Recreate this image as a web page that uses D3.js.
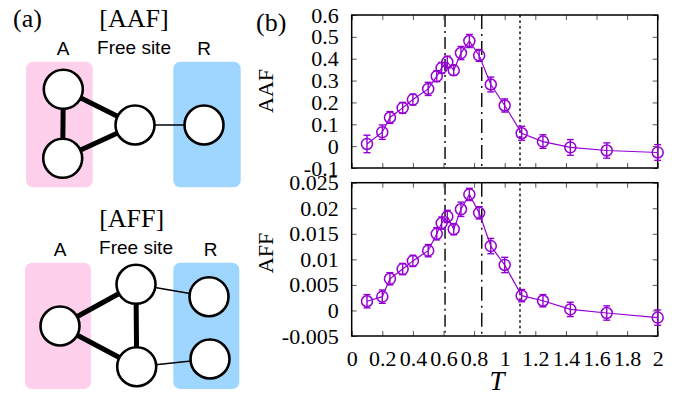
<!DOCTYPE html>
<html>
<head>
<meta charset="utf-8">
<script src="https://cdn.jsdelivr.net/npm/d3@7"></script>
<style>
  html, body { margin: 0; padding: 0; background: #fff; }
  svg { display: block; }
</style>
</head>
<body>
<svg id="fig" width="682" height="396"></svg>
<script>
// Temperatures of the sampled points
const temps = [0.1, 0.2, 0.25, 0.333, 0.4, 0.5, 0.556, 0.588, 0.625, 0.667, 0.714, 0.769, 0.833, 0.909, 1.0, 1.111, 1.25, 1.429, 1.667, 2.0];
// AAF correlation and its error bars
const aafValues = [0.01, 0.064, 0.131, 0.175, 0.213, 0.262, 0.32, 0.358, 0.385, 0.347, 0.426, 0.481, 0.415, 0.282, 0.186, 0.059, 0.021, -0.006, -0.02, -0.029];
const aafErrors = [0.04, 0.033, 0.027, 0.025, 0.025, 0.03, 0.025, 0.025, 0.027, 0.023, 0.03, 0.03, 0.027, 0.034, 0.03, 0.032, 0.031, 0.036, 0.035, 0.036];
// AFF correlation and its error bars
const affValues = [0.0018, 0.0027, 0.0062, 0.0081, 0.0097, 0.0117, 0.0150, 0.0171, 0.0184, 0.0159, 0.0198, 0.0227, 0.0191, 0.0126, 0.0089, 0.0029, 0.0019, 0.0002, -0.0005, -0.0014];
const affErrors = [0.0013, 0.0013, 0.0012, 0.0011, 0.0011, 0.0012, 0.0012, 0.0012, 0.0012, 0.0011, 0.0014, 0.0012, 0.0012, 0.0015, 0.0015, 0.0012, 0.0012, 0.0014, 0.0014, 0.0015];
// Reference temperatures marked by vertical lines
const markerTemps = [0.61, 0.85, 1.10];
const markerDash = ["12,4,2,4", "14,5,2,5", "2.5,3"];
// Tick labels
const xTicks = [0, 0.2, 0.4, 0.6, 0.8, 1, 1.2, 1.4, 1.6, 1.8, 2];
const aafTicks = [-0.1, 0, 0.1, 0.2, 0.3, 0.4, 0.5, 0.6];
const affTicks = [-0.005, 0, 0.005, 0.01, 0.015, 0.02, 0.025];

const svg = d3.select("#fig");
const serif = "'Liberation Serif', 'Times New Roman', serif";
const sans = "'Liberation Sans', Arial, sans-serif";
const purple = "#9400d3";

const x = d3.scaleLinear().domain([0, 2]).range([351.7, 657.7]);
const fmt = d => String(Math.round(d * 10000) / 10000);

function panel(values, errors, domain, ticks, top, bottom, label, labelY, showX) {
  const y = d3.scaleLinear().domain(domain).range([bottom, top]);
  const g = svg.append("g");

  // markers for reference temperatures
  markerTemps.forEach((t, i) => {
    g.append("line")
      .attr("x1", x(t)).attr("x2", x(t))
      .attr("y1", top).attr("y2", bottom)
      .attr("stroke", "#000").attr("stroke-width", 1.4)
      .attr("stroke-dasharray", markerDash[i]);
  });

  // axes with inward ticks on all sides
  const left = g.append("g").attr("transform", `translate(${x.range()[0]},0)`)
    .call(d3.axisLeft(y).tickValues(ticks).tickSize(-5).tickPadding(13).tickFormat(fmt));
  const right = g.append("g").attr("transform", `translate(${x.range()[1]},0)`)
    .call(d3.axisRight(y).tickValues(ticks).tickSize(-5).tickFormat(""));
  const bot = g.append("g").attr("transform", `translate(0,${bottom})`)
    .call(d3.axisBottom(x).tickValues(xTicks).tickSize(-5).tickPadding(14).tickFormat(showX ? fmt : ""));
  const topAx = g.append("g").attr("transform", `translate(0,${top})`)
    .call(d3.axisTop(x).tickValues(xTicks).tickSize(-5).tickFormat(""));
  [left, right, bot, topAx].forEach(a => {
    a.select(".domain").remove();
    a.selectAll(".tick line").attr("stroke", "#555").attr("stroke-width", 1);
    a.selectAll("text").attr("font-family", serif).attr("font-size", 22).attr("fill", "#000");
  });
  bot.selectAll("text").attr("dy", "0.71em");

  // frame
  g.append("rect").attr("x", x.range()[0]).attr("y", top)
    .attr("width", x.range()[1] - x.range()[0]).attr("height", bottom - top)
    .attr("fill", "none").attr("stroke", "#000").attr("stroke-width", 1.5);

  // data line
  const pts = temps.map((t, i) => ({ t, v: values[i], e: errors[i] }));
  g.append("path").datum(pts)
    .attr("d", d3.line().x(d => x(d.t)).y(d => y(d.v)))
    .attr("fill", "none").attr("stroke", purple).attr("stroke-width", 1.2);

  const pt = g.selectAll(".pt").data(pts).join("g").attr("class", "pt");
  pt.append("line")
    .attr("x1", d => x(d.t)).attr("x2", d => x(d.t))
    .attr("y1", d => y(d.v - d.e)).attr("y2", d => y(d.v + d.e))
    .attr("stroke", purple).attr("stroke-width", 1.4);
  [-1, 1].forEach(s => {
    pt.append("line")
      .attr("x1", d => x(d.t) - 3.5).attr("x2", d => x(d.t) + 3.5)
      .attr("y1", d => y(d.v + s * d.e)).attr("y2", d => y(d.v + s * d.e))
      .attr("stroke", purple).attr("stroke-width", 1.4);
  });
  pt.append("circle")
    .attr("cx", d => x(d.t)).attr("cy", d => y(d.v)).attr("r", 5.5)
    .attr("fill", "none").attr("stroke", purple).attr("stroke-width", 1.5);

  // y label
  svg.append("text")
    .attr("transform", `translate(273,${labelY}) rotate(-90)`)
    .attr("text-anchor", "middle")
    .attr("font-family", serif).attr("font-size", 22)
    .text(label);
}

panel(aafValues, aafErrors, [-0.1, 0.6], aafTicks, 15, 168, "AAF", 91, false);
panel(affValues, affErrors, [-0.005, 0.025], affTicks, 182.7, 336, "AFF", 253, true);

svg.append("text").attr("x", 497).attr("y", 390).attr("text-anchor", "middle")
  .attr("font-family", serif).attr("font-style", "italic").attr("font-size", 27).text("T");

svg.append("text").attr("x", 256).attr("y", 31).attr("font-family", serif).attr("font-size", 26).text("(b)");
svg.append("text").attr("x", 13).attr("y", 27).attr("font-family", serif).attr("font-size", 26).text("(a)");

// Schematic diagrams of the two cluster configurations
const pink = "#ffd0ec", blue = "#9fd6ff";
function diagram(cfg) {
  const g = svg.append("g");
  g.append("rect").attr("x", cfg.boxA[0]).attr("y", cfg.boxY).attr("width", cfg.boxA[1]).attr("height", cfg.boxH)
    .attr("rx", 7).attr("fill", pink);
  g.append("rect").attr("x", cfg.boxR[0]).attr("y", cfg.boxY).attr("width", cfg.boxR[1]).attr("height", cfg.boxH)
    .attr("rx", 7).attr("fill", blue);
  cfg.edges.forEach(([a, b, w]) => {
    g.append("line")
      .attr("x1", cfg.nodes[a][0]).attr("y1", cfg.nodes[a][1])
      .attr("x2", cfg.nodes[b][0]).attr("y2", cfg.nodes[b][1])
      .attr("stroke", "#000").attr("stroke-width", w);
  });
  Object.values(cfg.nodes).forEach(([cx, cy]) => {
    g.append("circle").attr("cx", cx).attr("cy", cy).attr("r", 19.5)
      .attr("fill", "#fff").attr("stroke", "#000").attr("stroke-width", 2.6);
  });
  g.append("text").attr("x", cfg.title[0]).attr("y", cfg.title[1]).attr("text-anchor", "middle")
    .attr("font-family", serif).attr("font-size", 26).text(cfg.name);
  cfg.labels.forEach(([txt, lx, ly]) => {
    g.append("text").attr("x", lx).attr("y", ly).attr("text-anchor", "middle")
      .attr("font-family", sans).attr("font-size", 19).text(txt);
  });
}

diagram({
  name: "[AAF]", title: [134, 27],
  boxA: [26, 66.7], boxR: [173.3, 67.4], boxY: 61.7, boxH: 125.5,
  nodes: { a1: [63.3, 89.3], a2: [62.7, 158.3], f: [135, 125], r: [204, 125] },
  edges: [["a1", "a2", 5], ["a1", "f", 5], ["a2", "f", 5], ["f", "r", 1.6]],
  labels: [["A", 63, 55], ["Free site", 134, 54], ["R", 204, 55]]
});

diagram({
  name: "[AFF]", title: [131.7, 227],
  boxA: [25, 66], boxR: [173.3, 66], boxY: 262.7, boxH: 126.3,
  nodes: { a: [60, 326], f1: [136, 284.3], f2: [136.7, 366.7], r1: [209, 296.7], r2: [210, 359] },
  edges: [["a", "f1", 5], ["a", "f2", 5], ["f1", "f2", 5], ["f1", "r1", 1.6], ["f2", "r2", 1.6]],
  labels: [["A", 60, 256], ["Free site", 136, 254], ["R", 210.7, 256]]
});
</script>
</body>
</html>
